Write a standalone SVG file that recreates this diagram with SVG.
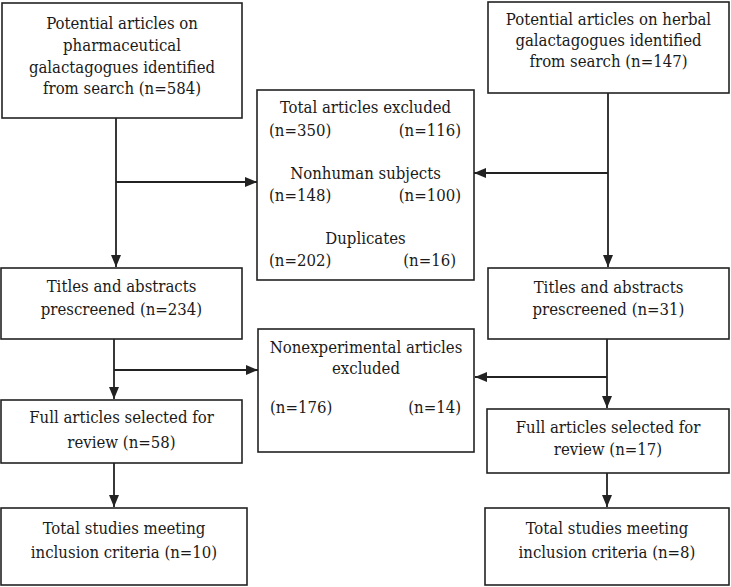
<svg xmlns="http://www.w3.org/2000/svg" width="731" height="587" viewBox="0 0 731 587">
<style>
.box{fill:#fff;stroke:#222;stroke-width:1.6}
text{font-family:'DejaVu Serif Condensed','DejaVu Serif',serif;font-stretch:condensed;font-size:16.6px;fill:#1a1a1a;text-anchor:middle}
text.l{text-anchor:start}
text.r{text-anchor:end}
.c{fill:none;stroke:#222;stroke-width:1.8}
</style>
<defs>
<marker id="ah" markerUnits="userSpaceOnUse" markerWidth="12" markerHeight="10" viewBox="0 0 12 10" refX="12" refY="5" orient="auto">
<path d="M0,0 L12,5 L0,10 Z" fill="#222"/>
</marker>
</defs>
<rect width="731" height="587" fill="#fff"/>
<g id="connectors">
<line class="c" x1="116" y1="118" x2="116" y2="267" marker-end="url(#ah)"/>
<line class="c" x1="116" y1="182" x2="257" y2="182" marker-end="url(#ah)"/>
<line class="c" x1="608" y1="89" x2="608" y2="267" marker-end="url(#ah)"/>
<line class="c" x1="603" y1="90" x2="608" y2="90"/>
<line class="c" x1="608" y1="173" x2="474" y2="173" marker-end="url(#ah)"/>
<line class="c" x1="114" y1="339" x2="114" y2="399" marker-end="url(#ah)"/>
<line class="c" x1="114" y1="370" x2="258" y2="370" marker-end="url(#ah)"/>
<line class="c" x1="607" y1="339" x2="607" y2="408" marker-end="url(#ah)"/>
<line class="c" x1="607" y1="377" x2="475" y2="377" marker-end="url(#ah)"/>
<line class="c" x1="114" y1="463" x2="114" y2="507" marker-end="url(#ah)"/>
<line class="c" x1="607" y1="473" x2="607" y2="507" marker-end="url(#ah)"/>
</g>
<g id="pharm-search">
<rect class="box" x="2" y="3" width="240" height="115"/>
<text x="122" y="29">Potential articles on</text>
<text x="122" y="51">pharmaceutical</text>
<text x="122" y="73">galactagogues identified</text>
<text x="122" y="94">from search (n=584)</text>
</g>
<g id="herbal-search">
<rect class="box" x="488" y="2" width="241" height="91"/>
<text x="608.5" y="25">Potential articles on herbal</text>
<text x="608.5" y="46">galactagogues identified</text>
<text x="608.5" y="67">from search (n=147)</text>
</g>
<g id="excluded">
<rect class="box" x="257" y="90" width="217" height="190"/>
<text x="365.5" y="113">Total articles excluded</text>
<text class="l" x="269" y="136">(n=350)</text>
<text class="r" x="461" y="136">(n=116)</text>
<text x="365.5" y="179">Nonhuman subjects</text>
<text class="l" x="269" y="201">(n=148)</text>
<text class="r" x="461" y="201">(n=100)</text>
<text x="365.5" y="244">Duplicates</text>
<text class="l" x="269" y="266">(n=202)</text>
<text class="r" x="456" y="266">(n=16)</text>
</g>
<g id="pharm-titles">
<rect class="box" x="1" y="268" width="241" height="71"/>
<text x="121.5" y="292">Titles and abstracts</text>
<text x="121.5" y="315">prescreened (n=234)</text>
</g>
<g id="herbal-titles">
<rect class="box" x="488" y="268" width="241" height="71"/>
<text x="608.5" y="293">Titles and abstracts</text>
<text x="608.5" y="315">prescreened (n=31)</text>
</g>
<g id="nonexperimental">
<rect class="box" x="258" y="329" width="216" height="123"/>
<text x="366" y="353">Nonexperimental articles</text>
<text x="366" y="374">excluded</text>
<text class="l" x="270" y="413">(n=176)</text>
<text class="r" x="461" y="413">(n=14)</text>
</g>
<g id="pharm-full">
<rect class="box" x="1" y="400" width="241" height="63"/>
<text x="121.5" y="423">Full articles selected for</text>
<text x="121.5" y="448">review (n=58)</text>
</g>
<g id="herbal-full">
<rect class="box" x="487" y="409" width="242" height="64"/>
<text x="608" y="433">Full articles selected for</text>
<text x="608" y="455">review (n=17)</text>
</g>
<g id="pharm-total">
<rect class="box" x="1" y="508" width="246" height="77"/>
<text x="124" y="534">Total studies meeting</text>
<text x="124" y="558">inclusion criteria (n=10)</text>
</g>
<g id="herbal-total">
<rect class="box" x="485" y="508" width="244" height="77"/>
<text x="607" y="534">Total studies meeting</text>
<text x="607" y="558">inclusion criteria (n=8)</text>
</g>
</svg>
